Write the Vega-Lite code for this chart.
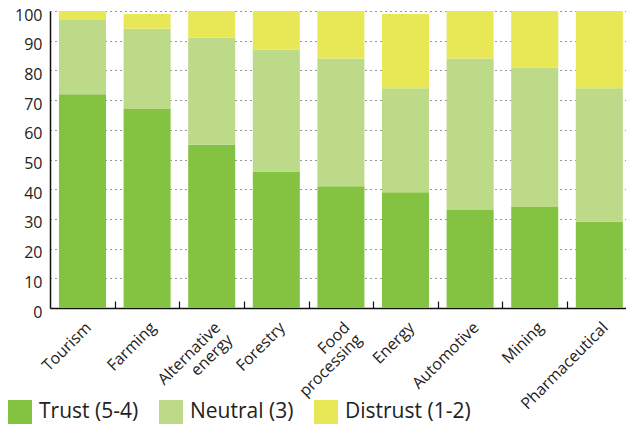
{
  "$schema": "https://vega.github.io/schema/vega-lite/v6.json",
  "width": 576,
  "height": 297,
  "autosize": "none",
  "padding": {"left": 50, "top": 11, "right": 0, "bottom": 118},
  "background": "white",
  "config": {
    "font": "Open Sans",
    "view": {"stroke": null},
    "axis": {"labelFont": "Open Sans", "labelColor": "#222222", "domainColor": "#111111", "domainWidth": 1.5, "tickColor": "#111111"}
  },
  "data": {
    "values": [
      {"sector": "Tourism", "response": "Trust (5-4)", "pct": 72},
      {"sector": "Tourism", "response": "Neutral (3)", "pct": 25},
      {"sector": "Tourism", "response": "Distrust (1-2)", "pct": 3},
      {"sector": "Farming", "response": "Trust (5-4)", "pct": 67},
      {"sector": "Farming", "response": "Neutral (3)", "pct": 27},
      {"sector": "Farming", "response": "Distrust (1-2)", "pct": 5},
      {"sector": "Alternative energy", "response": "Trust (5-4)", "pct": 55},
      {"sector": "Alternative energy", "response": "Neutral (3)", "pct": 36},
      {"sector": "Alternative energy", "response": "Distrust (1-2)", "pct": 9},
      {"sector": "Forestry", "response": "Trust (5-4)", "pct": 46},
      {"sector": "Forestry", "response": "Neutral (3)", "pct": 41},
      {"sector": "Forestry", "response": "Distrust (1-2)", "pct": 13},
      {"sector": "Food processing", "response": "Trust (5-4)", "pct": 41},
      {"sector": "Food processing", "response": "Neutral (3)", "pct": 43},
      {"sector": "Food processing", "response": "Distrust (1-2)", "pct": 16},
      {"sector": "Energy", "response": "Trust (5-4)", "pct": 39},
      {"sector": "Energy", "response": "Neutral (3)", "pct": 35},
      {"sector": "Energy", "response": "Distrust (1-2)", "pct": 25},
      {"sector": "Automotive", "response": "Trust (5-4)", "pct": 33},
      {"sector": "Automotive", "response": "Neutral (3)", "pct": 51},
      {"sector": "Automotive", "response": "Distrust (1-2)", "pct": 16},
      {"sector": "Mining", "response": "Trust (5-4)", "pct": 34},
      {"sector": "Mining", "response": "Neutral (3)", "pct": 47},
      {"sector": "Mining", "response": "Distrust (1-2)", "pct": 19},
      {"sector": "Pharmaceutical", "response": "Trust (5-4)", "pct": 29},
      {"sector": "Pharmaceutical", "response": "Neutral (3)", "pct": 45},
      {"sector": "Pharmaceutical", "response": "Distrust (1-2)", "pct": 26}
    ]
  },
  "mark": {"type": "bar"},
  "encoding": {
    "x": {
      "field": "sector",
      "type": "nominal",
      "sort": null,
      "title": null,
      "scale": {"paddingInner": 0.272, "paddingOuter": 0.094, "align": 0.74},
      "axis": {
        "labelAngle": -45,
        "labelAlign": "right",
        "labelBaseline": "top",
        "labelFontSize": 16,
        "labelExpr": "split(datum.label, ' ')",
        "labelLineHeight": 17,
        "ticks": false,
        "tickOffset": 32.3,
        "labelOffset": -32.3,
        "labelPadding": 11,
        "grid": true,
        "gridColor": "#111111",
        "gridWidth": 1.2,
        "gridDash": [0, 290, 7, 10]
      }
    },
    "y": {
      "field": "pct",
      "type": "quantitative",
      "stack": "zero",
      "title": null,
      "scale": {"domain": [0, 100], "nice": false},
      "axis": {
        "values": [0, 10, 20, 30, 40, 50, 60, 70, 80, 90, 100],
        "labelFontSize": 16,
        "labelPadding": 8,
        "labelOffset": 4,
        "ticks": false,
        "grid": true,
        "gridColor": "#333333",
        "gridDash": [1, 4],
        "gridWidth": 1.2
      }
    },
    "color": {
      "field": "response",
      "type": "nominal",
      "sort": ["Trust (5-4)", "Neutral (3)", "Distrust (1-2)"],
      "scale": {
        "domain": ["Trust (5-4)", "Neutral (3)", "Distrust (1-2)"],
        "range": ["#84c341", "#bdda88", "#e8e756"]
      },
      "legend": {
        "title": null,
        "orient": "none",
        "legendX": -42,
        "legendY": 389,
        "direction": "horizontal",
        "symbolType": "square",
        "symbolSize": 576,
        "symbolStrokeWidth": 0,
        "symbolOpacity": 1,
        "labelFontSize": 21,
        "labelColor": "#222222",
        "labelOffset": 7,
        "columnPadding": 20,
        "padding": 0
      }
    }
  }
}
